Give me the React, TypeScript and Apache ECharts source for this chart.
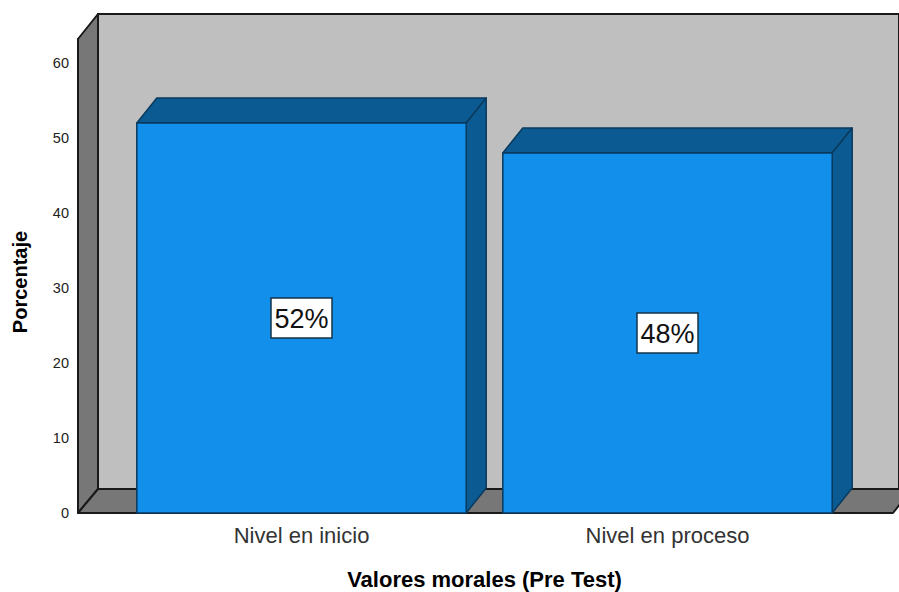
import React, { useEffect, useRef } from "react";
import * as echarts from "echarts";

const categories = ["Nivel en inicio", "Nivel en proceso"];
const percentages = [52, 48];
const yTicks = [0, 10, 20, 30, 40, 50, 60];
const xTitle = "Valores morales (Pre Test)";
const yTitle = "Porcentaje";

const DEPTH_X = 20;
const DEPTH_Y = 25;
const FRONT = "#118FEB";
const SHADE = "#0B5B92";
const EDGE = "#0A3A5E";
const WALL = "#BFBFBF";
const SIDE = "#777777";
const LINE = "#1A1A1A";
const FONT = "'Liberation Sans', Arial, sans-serif";

export default function App() {
  const ref = useRef<HTMLDivElement>(null);
  useEffect(() => {
    document.body.style.margin = "0";
    const chart = echarts.init(ref.current!, null, { renderer: "svg" });
    const wallStyle = { stroke: LINE, lineWidth: 2, lineJoin: "round" as const };
    chart.setOption({
      animation: false,
      backgroundColor: "#fff",
      grid: { left: 118.5, width: 732, top: 39, height: 474, containLabel: false, outerBoundsMode: "none" },
      graphic: [
        { type: "polygon", z: -1, shape: { points: [[98, 14], [899, 14], [899, 489], [98, 489]] }, style: { fill: WALL, stroke: LINE, lineWidth: 2 } },
        { type: "polygon", z: -1, shape: { points: [[78, 39], [98, 14], [98, 489], [78, 513]] }, style: { fill: SIDE, ...wallStyle } },
        { type: "polygon", z: -1, shape: { points: [[78, 513], [98, 489], [912, 489], [893, 513]] }, style: { fill: SIDE, ...wallStyle } },
      ],
      xAxis: {
        type: "category",
        data: categories,
        axisLine: { show: true, lineStyle: { color: LINE, width: 2 } },
        axisTick: { show: false },
        axisLabel: { color: "#333", fontFamily: FONT, fontSize: 22, margin: 11 },
        name: xTitle,
        nameLocation: "middle",
        nameGap: 55,
        nameTextStyle: { color: "#000", fontFamily: FONT, fontWeight: "bold", fontSize: 22 },
      },
      yAxis: {
        type: "value",
        min: 0,
        max: 63.2,
        offset: 40.5,
        axisLine: { show: true, onZero: false, lineStyle: { color: LINE, width: 2 } },
        axisTick: { show: false, customValues: yTicks },
        splitLine: { show: false },
        axisLabel: { color: "#222", fontFamily: FONT, fontSize: 14.5, margin: 9, padding: [2, 0, 0, 0], customValues: yTicks },
        name: yTitle,
        nameLocation: "middle",
        nameGap: 48,
        nameRotate: 90,
        nameTextStyle: { color: "#000", fontFamily: FONT, fontWeight: "bold", fontSize: 20, padding: [0, 0, 0, -12] },
      },
      series: [
        {
          type: "custom",
          clip: false,
          z: 5,
          data: percentages.map((v, i) => [i, v]),
          encode: { x: 0, y: 1 },
          renderItem: (_p: any, api: any) => {
            const i = api.value(0);
            const v = api.value(1);
            const [cx, top] = api.coord([i, v]);
            const [, base] = api.coord([i, 0]);
            const band = api.size([1, 0])[0];
            const w = band * 0.9;
            const l = cx - w / 2;
            const r = cx + w / 2;
            const mid = (top + base) / 2;
            const edge = { stroke: EDGE, lineWidth: 1.5, lineJoin: "round" };
            return {
              type: "group",
              children: [
                { type: "polygon", shape: { points: [[l, top], [l + DEPTH_X, top - DEPTH_Y], [r + DEPTH_X, top - DEPTH_Y], [r, top]] }, style: { fill: SHADE, ...edge } },
                { type: "polygon", shape: { points: [[r, top], [r + DEPTH_X, top - DEPTH_Y], [r + DEPTH_X, base - DEPTH_Y], [r, base]] }, style: { fill: SHADE, ...edge } },
                { type: "rect", shape: { x: l, y: top, width: w, height: base - top }, style: { fill: FRONT, ...edge } },
                { type: "rect", shape: { x: cx - 30.5, y: mid - 20, width: 61, height: 40 }, style: { fill: "#fff", stroke: "#15344A", lineWidth: 1.5 } },
                { type: "text", style: { x: cx, y: mid + 1, text: `${v}%`, fill: "#111", font: `27px ${FONT}`, align: "center", verticalAlign: "middle" } },
              ],
            };
          },
        },
      ],
    });
    return () => chart.dispose();
  }, []);
  return <div ref={ref} style={{ width: 899, height: 592 }} />;
}
